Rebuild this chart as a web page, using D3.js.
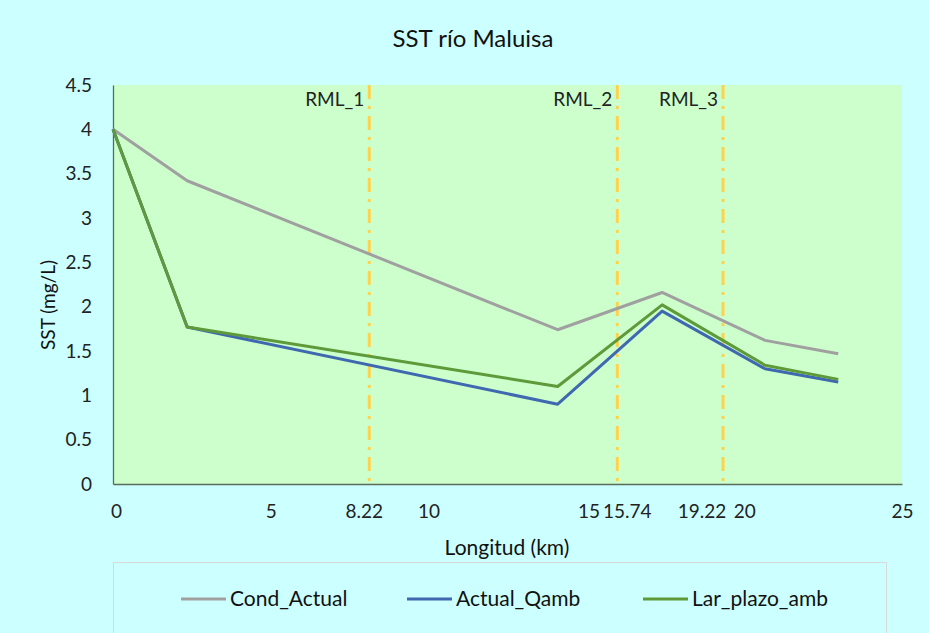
<!DOCTYPE html>
<html><head><meta charset="utf-8">
<script src="https://cdn.jsdelivr.net/npm/d3@7"></script>
<style>
html,body{margin:0;padding:0;background:#CCFFFF;}
svg{display:block;font-family:Lato,"Open Sans",sans-serif;}
</style></head>
<body>
<svg id="chart" width="929" height="633"></svg>
<script>
const distanceKm = [0, 2.35, 14.09, 17.4, 20.66, 22.98];
const condActual = [4.0, 3.42, 1.74, 2.16, 1.62, 1.47];
const actualQamb = [4.0, 1.77, 0.90, 1.95, 1.30, 1.15];
const larPlazoAmb = [4.0, 1.77, 1.10, 2.02, 1.34, 1.18];
const seriesNames = ["Cond_Actual", "Actual_Qamb", "Lar_plazo_amb"];
const yTicks = [0, 0.5, 1, 1.5, 2, 2.5, 3, 3.5, 4, 4.5];
const xTicks = [0, 5, 10, 15, 20, 25];
const rmlNames = ["RML_1", "RML_2", "RML_3"];
const rmlKm = [8.12, 15.98, 19.33];
const rmlTickLabels = ["8.22", "15.74", "19.22"];

const svg = d3.select("#chart");
const W = 929, H = 633;
const FONT = "Lato,'Open Sans',sans-serif";
const m = {left:113, right:902, top:85, bottom:484};
const x = d3.scaleLinear().domain([0,25]).range([m.left, m.right]);
const y = d3.scaleLinear().domain([0,4.5]).range([m.bottom, m.top]);

svg.append("rect").attr("width",W).attr("height",H).attr("fill","#CCFFFF");
svg.append("rect").attr("x",m.left).attr("y",m.top).attr("width",m.right-m.left).attr("height",m.bottom-m.top).attr("fill","#CCFFCC");

// title
svg.append("text").attr("x",473).attr("y",47).attr("text-anchor","middle")
  .attr("font-size",24).attr("fill","#111").text("SST río Maluisa");

// y axis
const yAxis = d3.axisLeft(y).tickValues(yTicks).tickSize(0).tickPadding(21).tickFormat(d=>String(d));
const gy = svg.append("g").attr("transform",`translate(${m.left},0)`).call(yAxis);
gy.select(".domain").attr("stroke","#596b59").attr("stroke-width",1.3);
gy.selectAll("text").attr("font-size",19).attr("fill","#222").attr("font-family",FONT);

// x axis
const xAxis = d3.axisBottom(x).tickValues(xTicks).tickSize(0).tickPadding(21).tickFormat(d=>String(d));
const gx = svg.append("g").attr("transform",`translate(0,${m.bottom})`).call(xAxis);
gx.select(".domain").attr("stroke","#596b59").attr("stroke-width",1.3);
gx.selectAll("text").attr("font-size",19).attr("fill","#222").attr("font-family",FONT);
gx.selectAll(".tick").filter(d=>d===0).select("text").attr("dx",3);
gx.selectAll(".tick").filter(d=>d===15).select("text").attr("dx",2);

// RML vertical lines
const labelShift = [-5, 10, -21];
rmlKm.forEach((k,i)=>{
  svg.append("line").attr("x1",x(k)).attr("x2",x(k)).attr("y1",m.top).attr("y2",m.bottom)
    .attr("stroke","#FFD24D").attr("stroke-width",3).attr("stroke-dasharray","14,7,3,7");
  svg.append("text").attr("x",x(k)-5).attr("y",106).attr("text-anchor","end")
    .attr("font-size",19).attr("fill","#222").text(rmlNames[i]);
  svg.append("text").attr("x",x(k)+labelShift[i]).attr("y",m.bottom+21).attr("dy","0.71em")
    .attr("text-anchor","middle").attr("font-size",19).attr("fill","#222").text(rmlTickLabels[i]);
});

// series
const colors = ["#A0A0A0", "#3F68B0", "#5E9A3A"];
const seriesData = [condActual, actualQamb, larPlazoAmb];
const line = d3.line().x((d,i)=>x(distanceKm[i])).y(d=>y(d));
seriesData.forEach((s,i)=>{
  svg.append("path").datum(s).attr("d",line).attr("fill","none")
    .attr("stroke",colors[i]).attr("stroke-width",3).attr("stroke-linejoin","round");
});

// axis titles
svg.append("text").attr("transform","translate(55,305) rotate(-90)").attr("text-anchor","middle")
  .attr("font-size",19).attr("fill","#111").text("SST (mg/L)");
svg.append("text").attr("x",507).attr("y",555).attr("text-anchor","middle")
  .attr("font-size",21).attr("fill","#111").text("Longitud (km)");

// legend
svg.append("rect").attr("x",113.5).attr("y",562.5).attr("width",773).attr("height",80)
  .attr("fill","#CCFFFF").attr("stroke","#D9D9D9");
const legX = [181, 407, 643];
seriesNames.forEach((n,i)=>{
  svg.append("line").attr("x1",legX[i]).attr("x2",legX[i]+45).attr("y1",599).attr("y2",599)
    .attr("stroke",colors[i]).attr("stroke-width",3);
  svg.append("text").attr("x",legX[i]+49).attr("y",599).attr("dy","0.35em")
    .attr("font-size",21).attr("fill","#111").text(n);
});
</script>
</body></html>
